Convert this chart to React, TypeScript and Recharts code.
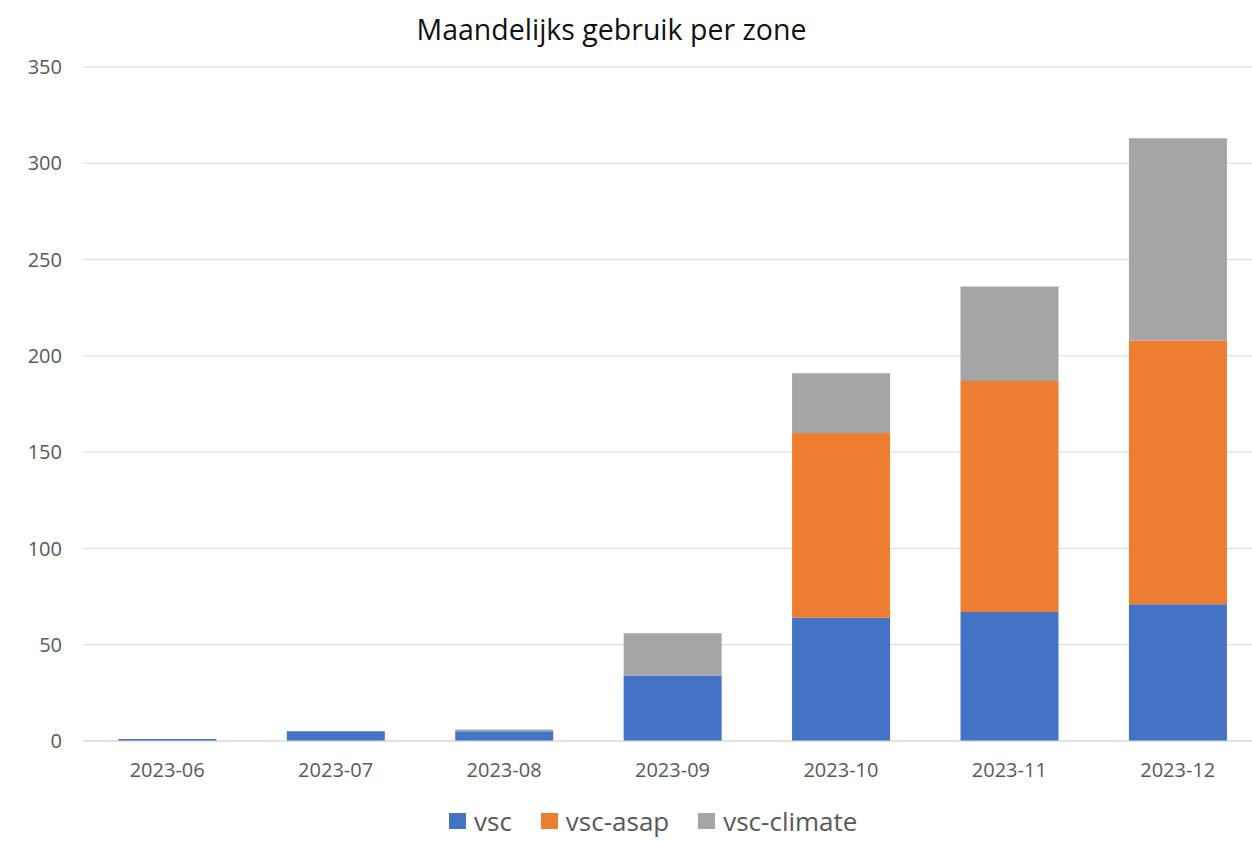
import { BarChart, Bar, XAxis, YAxis, CartesianGrid, Legend } from "recharts";

const months = ["2023-06", "2023-07", "2023-08", "2023-09", "2023-10", "2023-11", "2023-12"];
const vsc = [1, 5, 5, 34, 64, 67, 71];
const vscAsap = [0, 0, 0, 0, 96, 120, 137];
const vscClimate = [0, 0, 1, 22, 31, 49, 105];
const yTicks = [0, 50, 100, 150, 200, 250, 300, 350];

const data = months.map((m, i) => ({
  month: m,
  vsc: vsc[i],
  "vsc-asap": vscAsap[i],
  "vsc-climate": vscClimate[i],
}));

const font = "'Open Sans', 'DejaVu Sans', sans-serif";

function LegendBox({ payload }: any) {
  return (
    <div
      style={{
        display: "flex",
        alignItems: "center",
        fontSize: 26,
        lineHeight: "34px",
        color: "#595959",
        fontFamily: font,
      }}
    >
      {(payload || []).map((p: any, i: number) => (
        <div key={p.value} style={{ display: "flex", alignItems: "center", marginLeft: i ? 29 : 0 }}>
          <span style={{ width: 17, height: 16, background: p.color, marginRight: 8, display: "inline-block" }} />
          <span>{p.value}</span>
        </div>
      ))}
    </div>
  );
}

export default function App() {
  return (
    <div
      style={{
        position: "absolute",
        left: 0,
        top: 0,
        width: 1252,
        height: 841,
        overflow: "hidden",
        background: "#fff",
        fontFamily: font,
      }}
    >
      <div
        style={{
          position: "absolute",
          top: 10,
          left: 0,
          width: 1223,
          textAlign: "center",
          fontSize: 28.5,
          color: "#111",
        }}
      >
        Maandelijks gebruik per zone
      </div>
      <BarChart
        width={1264}
        height={841}
        data={data}
        margin={{ top: 67, right: 2, left: 0, bottom: 21 }}
        barCategoryGap="21%"
      >
        <CartesianGrid vertical={false} stroke="#d9d9d9" />
        <XAxis
          dataKey="month"
          height={45}
          axisLine={{ stroke: "#d9d9d9" }}
          tickLine={false}
          tickSize={0}
          tickMargin={22}
          tick={{ fill: "#595959", fontSize: 20, fontFamily: font }}
        />
        <YAxis
          width={83}
          domain={[0, 350]}
          ticks={yTicks}
          axisLine={false}
          tickLine={false}
          tickSize={0}
          tickMargin={21}
          tick={{ fill: "#595959", fontSize: 20, fontFamily: font }}
        />
        <Legend
          verticalAlign="bottom"
          content={<LegendBox />}
          wrapperStyle={{ bottom: 3, left: 449, width: "auto" }}
        />
        <Bar dataKey="vsc" stackId="a" fill="#4472C4" isAnimationActive={false} />
        <Bar dataKey="vsc-asap" stackId="a" fill="#ED7D31" isAnimationActive={false} />
        <Bar dataKey="vsc-climate" stackId="a" fill="#A5A5A5" isAnimationActive={false} />
      </BarChart>
    </div>
  );
}
